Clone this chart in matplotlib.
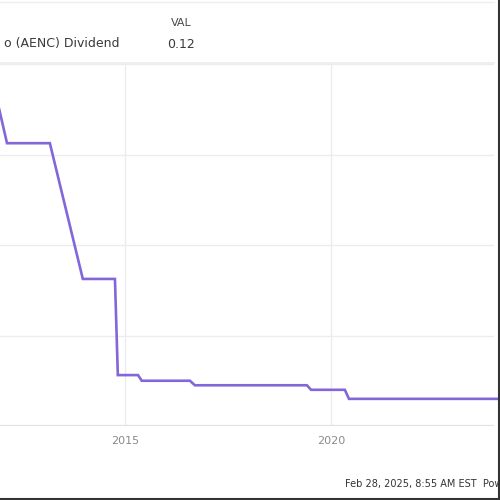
import matplotlib
matplotlib.use('Agg')
import matplotlib.pyplot as plt
from matplotlib.lines import Line2D

# dividend history (decimal years, dividend per share)
dates = [2011.90, 2012.14, 2013.18, 2013.98, 2014.76, 2014.83, 2015.32, 2015.41,
         2016.58, 2016.70, 2019.42, 2019.52, 2020.34, 2020.44, 2024.10]
dividend = [1.44, 1.25, 1.25, 0.65, 0.65, 0.225, 0.225, 0.20,
            0.20, 0.18, 0.18, 0.16, 0.16, 0.12, 0.12]

year_ticks = [2015, 2020]
y_grid = [0.4, 0.8, 1.2, 1.6]

series_label = 'o (AENC) Dividend'
last_val = '0.12'
footer = 'Feb 28, 2025, 8:55 AM EST  Powered by YCHARTS'

fig = plt.figure(figsize=(5, 5), dpi=100)
fig.patch.set_facecolor('white')

# plot area: 0 at y=426px, 1.6 at y=64px; x from 0 to 494px
ax = fig.add_axes([0.0, (500 - 426) / 500, 494 / 500, 362 / 500])
ax.set_xlim(2011.97, 2011.97 + 494 / 41.2)
ax.set_ylim(0, 1.6)
ax.set_facecolor('white')
for s in ax.spines.values():
    s.set_visible(False)

for y in y_grid:
    ax.axhline(y, color='#ececec', lw=1.0, zorder=0)
for x in year_ticks:
    ax.axvline(x, color='#ececec', lw=1.0, zorder=0)
ax.axhline(0, color='#e2e2e2', lw=1.6, zorder=1)

ax.plot(dates, dividend, color='#8466d9', lw=1.9, solid_joinstyle='miter', zorder=3,
        clip_on=False)
ax.set_xticks([])
ax.set_yticks([])
for x in year_ticks:
    ax.text(x, -0.045, str(x), ha='center', va='top', fontsize=8, color='#8a8a8a')

# header
fig.add_artist(Line2D([0, 494 / 500], [1 - 63 / 500] * 2, color='#ececec', lw=1.2))
fig.add_artist(Line2D([0, 494 / 500], [1 - 1.5 / 500] * 2, color='#eeeeee', lw=1.0))
fig.text(119 / 500, 1 - 44 / 500, series_label, ha='right', va='center',
         fontsize=9, color='#3a3a3a')
fig.text(181 / 500, 1 - 23 / 500, 'VAL', ha='center', va='center',
         fontsize=8, color='#4a4a4a')
fig.text(181 / 500, 1 - 44 / 500, last_val, ha='center', va='center',
         fontsize=9, color='#3a3a3a')

# footer
fig.text(345 / 500, 1 - 484 / 500, footer, ha='left', va='center',
         fontsize=7, color='#333333')

# frame edges of the crop
fig.add_artist(Line2D([498.5 / 500] * 2, [0, 1], color='#333333', lw=1.5))
fig.add_artist(Line2D([0, 1], [1.5 / 500] * 2, color='#333333', lw=1.5))

fig.savefig('out.png', dpi=100, facecolor='white')
